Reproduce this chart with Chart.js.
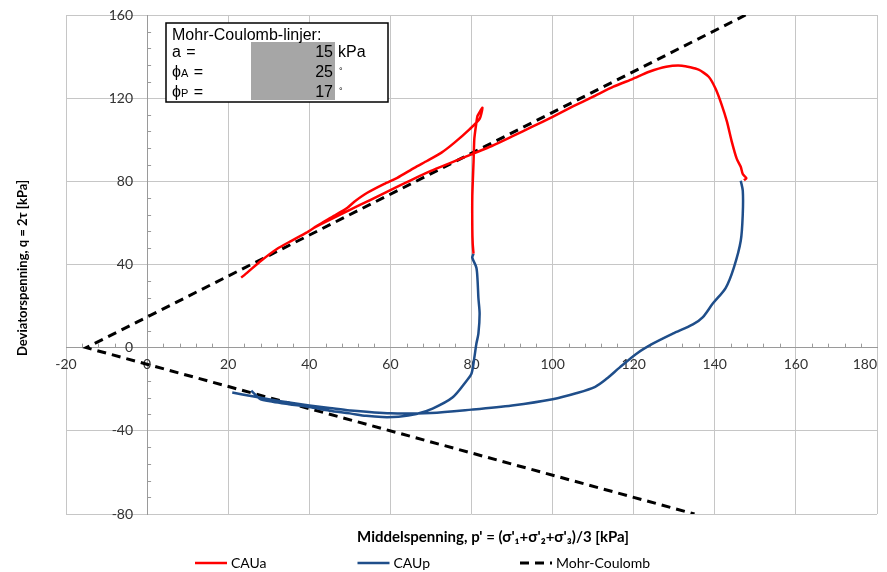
<!DOCTYPE html>
<html>
<head>
<meta charset="utf-8">
<script src="https://cdn.jsdelivr.net/npm/chart.js@4.4.0/dist/chart.umd.min.js"></script>
<style>
  html, body { margin: 0; padding: 0; background: #fff; }
</style>
</head>
<body>
<canvas id="mohrChart" width="887" height="572"></canvas>
<script>
// p' (x) and q (y). null in q splits two test paths in one series
const cauaP = [80.5, 80.3, 80.2, 80.2, 80.5, 80.7, 81.2, 81.5, 82.7, 82.0, 79.5, 75.8, 72.6, 69.1, 65.9, 61.7, 58.5, 54.3, 51.1, 49.4, 46.2, 42.0, 39.3, 35.6, 32.1, 28.1, 24.7, 23.2,
  23.2,
  147.2, 147.8, 146.9, 146.4, 145.4, 144.2, 143.0, 141.7, 140.2, 138.5, 136.0, 131.9, 128.0, 123.8, 119.8, 115.0, 110.0, 105.0, 100.0, 95.0, 90.0, 85.0, 80.0, 75.0, 70.0, 65.0, 60.0, 55.0, 50.0, 45.0, 41.0];
const cauaQ = [45.2, 50.0, 57.2, 73.0, 89.0, 100.5, 108.2, 111.5, 115.4, 110.0, 105.0, 98.6, 93.8, 89.9, 86.5, 81.7, 78.8, 74.5, 70.2, 67.3, 63.5, 58.7, 55.3, 51.4, 47.6, 41.8, 36.1, 33.7,
  null,
  80.5, 81.5, 83.5, 87.0, 90.9, 99.0, 108.7, 116.8, 124.5, 130.3, 133.7, 135.6, 135.1, 132.7, 129.3, 125.5, 120.7, 116.0, 111.0, 106.3, 101.6, 97.0, 93.0, 89.0, 85.0, 80.5, 75.8, 71.0, 66.3, 61.5, 57.5];

const caupP = [80.5, 80.2, 81.2, 81.5, 81.7, 82.0, 81.7, 81.2, 80.7, 80.0, 78.8, 75.3, 70.4, 66.4, 62.0, 58.0, 54.0, 50.0, 45.0, 40.0, 35.0, 31.0, 28.0, 27.0, 25.7,
  25.7,
  146.4, 146.9, 146.9, 146.4, 144.7, 142.7, 139.5, 137.0, 134.6, 129.6, 124.7, 120.7, 116.5, 113.3, 110.5, 106.0, 100.0, 90.0, 80.0, 70.0, 60.0, 50.0, 45.0, 40.0, 35.0, 30.0, 26.0, 21.0];
const caupQ = [45.2, 43.3, 38.5, 32.2, 24.0, 16.3, 6.7, 1.9, -4.8, -12.5, -15.9, -24.0, -29.3, -31.9, -33.2, -33.4, -32.8, -31.6, -30.3, -28.6, -27.2, -26.0, -24.8, -23.2, -20.7,
  null,
  80.3, 75.5, 64.4, 51.4, 38.5, 28.8, 21.2, 14.6, 11.2, 6.7, 1.9, -2.9, -9.6, -15.0, -18.8, -21.8, -24.8, -27.8, -29.8, -31.4, -31.6, -30.2, -29.0, -27.8, -26.4, -24.8, -23.4, -21.6];

// Mohr-Coulomb lines (compression branch, apex, extension branch)
const mcP = [147.6, -15, 135];
const mcQ = [160, 0, -80];

const seriesNames = ["CAUa", "CAUp", "Mohr-Coulomb"];
const seriesColors = ["#ff0000", "#1f4e8a", "#000000"];

const xMin = -20, xMax = 180, xStep = 20, xMinorStep = 4;
const yMin = -80, yMax = 160, yStep = 40, yMinorStep = 8;

const xTitle = "Middelspenning, p' = (σ'₁+σ'₂+σ'₃)/3 [kPa]";
const yTitle = "Deviatorspenning, q = 2τ [kPa]";

const boxTitle = "Mohr-Coulomb-linjer:";
const boxNames = ["a", "ϕ", "ϕ"];
const boxSubs = ["", "A", "P"];
const boxValues = [15, 25, 17];
const boxUnits = ["kPa", "°", "°"];

function toPoints(ps, qs) {
  return ps.map((p, i) => ({ x: p, y: qs[i] }));
}

const gridColor = "#c6c6c6";
const axisColor = "#9a9a9a";
const labelFont = "14px Lato";

// tick labels at the crossing axes, minor ticks, axis titles, legend, parameter box
const extrasPlugin = {
  id: "extras",
  beforeDatasetsDraw(chart) {
    const ctx = chart.ctx;
    const xs = chart.scales.x, ys = chart.scales.y;
    const x0 = xs.getPixelForValue(0), y0 = ys.getPixelForValue(0);
    ctx.save();
    ctx.strokeStyle = axisColor;
    ctx.lineWidth = 1;
    ctx.beginPath();
    for (let v = xMin; v <= xMax; v += xMinorStep) {
      if (v % xStep === 0) continue;
      const px = Math.round(xs.getPixelForValue(v)) + 0.5;
      ctx.moveTo(px, y0 - 4);
      ctx.lineTo(px, y0);
    }
    for (let v = yMin; v <= yMax; v += yMinorStep) {
      if (v % yStep === 0) continue;
      const py = Math.round(ys.getPixelForValue(v)) + 0.5;
      ctx.moveTo(x0, py);
      ctx.lineTo(x0 + 4, py);
    }
    ctx.stroke();

    ctx.fillStyle = "#333";
    ctx.font = labelFont;
    ctx.textAlign = "center";
    ctx.textBaseline = "top";
    xs.ticks.forEach((t) => {
      const label = String(t.value);
      const half = ctx.measureText(label).width / 2;
      let px = xs.getPixelForValue(t.value);
      px = Math.min(px, chart.width - 10 - half);
      ctx.fillText(label, px, y0 + 10);
    });
    ctx.textAlign = "right";
    ctx.textBaseline = "middle";
    ys.ticks.forEach((t) => {
      ctx.fillText(String(t.value), x0 - 14, ys.getPixelForValue(t.value));
    });
    ctx.restore();
  },
  afterDraw(chart) {
    const ctx = chart.ctx;
    const area = chart.chartArea;
    ctx.save();

    // axis titles
    ctx.fillStyle = "#000";
    ctx.textAlign = "center";
    ctx.textBaseline = "middle";
    ctx.font = "bold 15px Lato";
    ctx.fillText(xTitle, area.left + 427, area.bottom + 23);
    ctx.save();
    ctx.font = "bold 13px Lato";
    ctx.translate(23, area.top + 253);
    ctx.rotate(-Math.PI / 2);
    ctx.fillText(yTitle, 0, 0);
    ctx.restore();

    // legend
    ctx.font = "14px Lato";
    ctx.textAlign = "left";
    const legY = chart.height - 9;
    chart.data.datasets.forEach((ds, i) => {
      const lx = 195 + i * 162.5;
      ctx.save();
      ctx.strokeStyle = ds.borderColor;
      ctx.lineWidth = ds.borderWidth;
      ctx.setLineDash(ds.borderDash || []);
      ctx.beginPath();
      ctx.moveTo(lx, legY);
      ctx.lineTo(lx + 32, legY);
      ctx.stroke();
      ctx.restore();
      ctx.fillStyle = "#000";
      ctx.fillText(ds.label, lx + 36, legY);
    });

    // parameter box
    const bx = 166, by = 23, bw = 222, bh = 79;
    ctx.fillStyle = "#fff";
    ctx.fillRect(bx, by, bw, bh);
    ctx.fillStyle = "#a6a6a6";
    ctx.fillRect(bx + 85, by + 19, 84, 58);
    ctx.strokeStyle = "#000";
    ctx.lineWidth = 1.5;
    ctx.strokeRect(bx, by, bw, bh);
    ctx.fillStyle = "#000";
    ctx.textBaseline = "alphabetic";
    ctx.font = "16px 'Liberation Sans'";
    ctx.fillText(boxTitle, bx + 6, by + 17);
    for (let i = 0; i < boxNames.length; i++) {
      const base = by + 34 + i * 20;
      ctx.textAlign = "left";
      ctx.font = "16px 'Liberation Sans'";
      ctx.fillText(boxNames[i], bx + 6, base);
      let tx = bx + 6 + ctx.measureText(boxNames[i]).width;
      if (boxSubs[i]) {
        ctx.font = "11px 'Liberation Sans'";
        ctx.fillText(boxSubs[i], tx, base);
        tx += ctx.measureText(boxSubs[i]).width;
      }
      ctx.font = "16px 'Liberation Sans'";
      ctx.fillText(" =", tx + 1, base);
      ctx.textAlign = "right";
      ctx.fillText(String(boxValues[i]), bx + 167, base);
      ctx.textAlign = "left";
      if (boxUnits[i] === "°") {
        ctx.font = "9px 'Liberation Sans'";
        ctx.fillText(boxUnits[i], bx + 173, base - 3);
      } else {
        ctx.fillText(boxUnits[i], bx + 172, base);
      }
    }
    ctx.restore();
  }
};

const ctx = document.getElementById("mohrChart").getContext("2d");
new Chart(ctx, {
  type: "scatter",
  data: {
    datasets: [
      {
        label: seriesNames[0],
        data: toPoints(cauaP, cauaQ),
        borderColor: seriesColors[0],
        borderWidth: 2.5,
        showLine: true,
        spanGaps: false,
        pointRadius: 0,
        tension: 0.2,
      },
      {
        label: seriesNames[1],
        data: toPoints(caupP, caupQ),
        borderColor: seriesColors[1],
        borderWidth: 2.5,
        showLine: true,
        spanGaps: false,
        pointRadius: 0,
        tension: 0.3,
      },
      {
        label: seriesNames[2],
        data: toPoints(mcP, mcQ),
        borderColor: seriesColors[2],
        borderWidth: 3,
        borderDash: [9, 6],
        showLine: true,
        pointRadius: 0,
        tension: 0,
      },
    ],
  },
  options: {
    responsive: false,
    animation: false,
    layout: {
      padding: { left: 66, right: 10, top: 15, bottom: 58 },
    },
    plugins: {
      legend: { display: false },
      title: { display: false },
      tooltip: { enabled: false },
    },
    scales: {
      x: {
        type: "linear",
        min: xMin,
        max: xMax,
        position: { y: 0 },
        grid: { color: gridColor, drawTicks: false },
        border: { color: axisColor },
        ticks: { stepSize: xStep, display: false, autoSkip: false },
      },
      y: {
        type: "linear",
        min: yMin,
        max: yMax,
        position: { x: 0 },
        grid: { color: gridColor, drawTicks: false },
        border: { color: axisColor },
        ticks: { stepSize: yStep, display: false, autoSkip: false },
      },
    },
  },
  plugins: [extrasPlugin],
});
</script>
</body>
</html>
